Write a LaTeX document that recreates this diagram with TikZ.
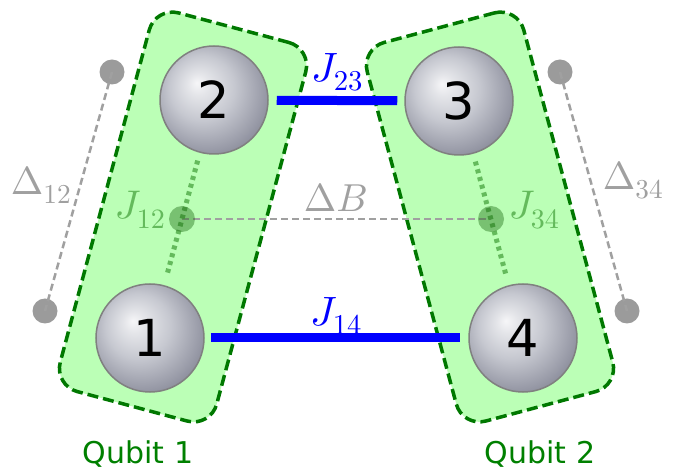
\documentclass[tikz,border=0pt]{standalone}
\usepackage{fontspec}
\DeclareFontShape{OML}{cmm}{m}{it}{<->cmmi10}{}
\DeclareFontShape{OT1}{cmr}{m}{n}{<->cmr10}{}
\newfontfamily\numfont{DejaVu Sans}
\definecolor{boxfill}{RGB}{187,255,182}
\definecolor{boxline}{RGB}{0,120,0}
\definecolor{jblue}{RGB}{0,0,255}
\definecolor{lgray}{RGB}{160,160,160}
\definecolor{dotgray}{RGB}{155,155,155}
\definecolor{jgreen}{RGB}{100,186,92}
\definecolor{midgreen}{RGB}{20,100,10}
\definecolor{qgreen}{RGB}{0,128,0}
\definecolor{rimgray}{RGB}{128,128,128}
\definecolor{ballA}{RGB}{246,246,248}
\definecolor{ballB}{RGB}{228,229,233}
\definecolor{ballC}{RGB}{198,200,208}
\definecolor{ballD}{RGB}{152,154,167}
\definecolor{ballE}{RGB}{116,118,134}
\pgfdeclareradialshading{qball}{\pgfpoint{-8bp}{8bp}}{%
  color(0bp)=(ballA); color(5bp)=(ballB); color(15bp)=(ballC);
  color(27bp)=(ballD); color(36bp)=(ballE); color(50bp)=(ballE)}
\begin{document}
\begin{tikzpicture}[x=1pt,y=-1pt,
  qbox/.style={rectangle, draw=boxline, fill=boxfill, dash pattern=on 11pt off 5pt,
    line width=3.5pt, rounded corners=24pt, minimum width=162pt, minimum height=392pt,
    inner sep=0pt},
  sphere/.style={circle, minimum size=108pt, inner sep=0pt, draw=rimgray,
    line width=1.5pt, shading=qball, font=\numfont\fontsize{51}{51}\selectfont},
  coupling/.style={draw=jblue, line width=9pt},
  exchange/.style={draw=jgreen, line width=5pt, dash pattern=on 4pt off 4pt},
  midpoint/.style={circle, minimum size=26pt, inner sep=0pt, fill=midgreen, fill opacity=0.4},
  tunnel/.style={draw=lgray, line width=2.5pt, dash pattern=on 7pt off 4pt},
  gdot/.style={circle, minimum size=25pt, inner sep=0pt, fill=dotgray},
  jlabel/.style={inner sep=0pt, text=jblue, font=\fontsize{41}{46}\selectfont},
  jclabel/.style={inner sep=0pt, text=jgreen, font=\fontsize{40}{46}\selectfont},
  glabel/.style={inner sep=0pt, text=lgray, font=\fontsize{39}{44}\selectfont},
  qlabel/.style={inner sep=0pt, text=qgreen, font=\numfont\fontsize{30}{30}\selectfont}]
\useasboundingbox (0,0) rectangle (678,470);

% qubit enclosures
\node[qbox, rotate=-15] (box1) at (183,217) {};
\node[qbox, rotate=15] (box2) at (490,217) {};

% detuning markers
\node[gdot] (d12a) at (112,72) {};
\node[gdot] (d12b) at (45,311) {};
\node[gdot] (d34a) at (560,72) {};
\node[gdot] (d34b) at (627,311) {};
\draw[tunnel] (d12a.center) -- (d12b.center);
\draw[tunnel] (d34a.center) -- (d34b.center);

% dots
\node[sphere] (s1) at (150,338) {1};
\node[sphere] (s2) at (214,100) {2};
\node[sphere] (s3) at (459,101) {3};
\node[sphere] (s4) at (523,338) {4};

% intra-qubit exchange and field gradient
\coordinate (c12) at (182,219);
\coordinate (c34) at (491,219);
\draw[tunnel] (c12) -- (c34);
\draw[exchange, shorten <=8pt, shorten >=12pt] (s2) -- (s1);
\draw[exchange, shorten <=8pt, shorten >=12pt] (s3) -- (s4);
\node[midpoint] (m12) at (c12) {};
\node[midpoint] (m34) at (c34) {};

% inter-qubit couplings
\draw[coupling, shorten <=8pt, shorten >=7pt] (s2) -- (s3);
\draw[coupling, shorten <=6pt, shorten >=8pt] (s1) -- (s4);

% labels
\node[jlabel] (l23) at (337,72) {$J_{23}$};
\node[jlabel] (l14) at (336,316) {$J_{14}$};
\node[jclabel] (l12) at (140,210) {$J_{12}$};
\node[jclabel] (l34) at (534,210) {$J_{34}$};
\node[glabel] (lB) at (336,198) {$\Delta B$};
\node[glabel] (ld12) at (41,186) {$\Delta_{12}$};
\node[glabel] (ld34) at (633,181) {$\Delta_{34}$};
\node[qlabel, anchor=base] (q1) at (138,464) {Qubit 1};
\node[qlabel, anchor=base] (q2) at (540,464) {Qubit 2};
\end{tikzpicture}
\end{document}
